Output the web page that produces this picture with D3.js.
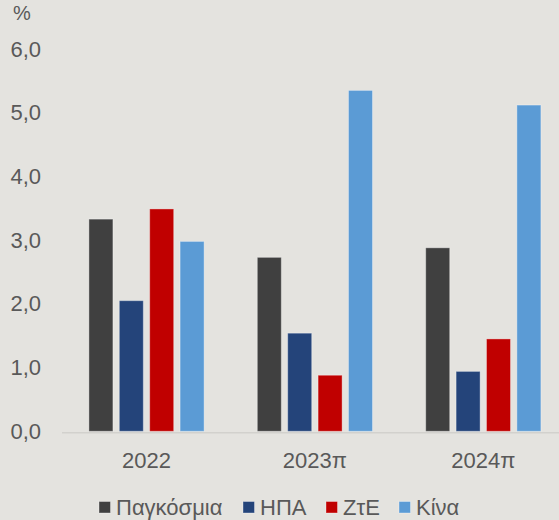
<!DOCTYPE html>
<html>
<head>
<meta charset="utf-8">
<script src="https://cdn.jsdelivr.net/npm/d3@7"></script>
<style>
  html, body { margin: 0; padding: 0; background: #E4E3DF; }
  svg { display: block; }
  text { font-family: "Liberation Sans", Arial, sans-serif; fill: #595959; }
</style>
</head>
<body>
<svg id="chart" width="559" height="520"></svg>
<script>
const categories = ["2022", "2023π", "2024π"];
const seriesNames = ["Παγκόσμια", "ΗΠΑ", "ΖτΕ", "Κίνα"];
const seriesColors = ["#404040", "#24447A", "#C00000", "#5B9BD5"];
const world = [3.33, 2.73, 2.88];
const usa = [2.05, 1.54, 0.94];
const euro = [3.49, 0.88, 1.45];
const china = [2.98, 5.35, 5.12];
const yTicks = [0, 1, 2, 3, 4, 5, 6];
const seriesValues = [world, usa, euro, china];

const svg = d3.select("#chart");
const W = 559, H = 520;
svg.append("rect").attr("width", W).attr("height", H).attr("fill", "#E4E3DF");

const y = d3.scaleLinear().domain([0, 6]).range([431.3, 49]);
const x0 = d3.scaleBand().domain(categories).range([62.3, 567.5])
  .paddingInner(0.316).paddingOuter(0.158);
const x1 = d3.scaleBand().domain(seriesNames).range([0, x0.bandwidth()])
  .paddingInner(0.21).paddingOuter(0);
const color = d3.scaleOrdinal().domain(seriesNames).range(seriesColors);

// baseline
svg.append("line")
  .attr("x1", 62).attr("x2", W)
  .attr("y1", 432.8).attr("y2", 432.8)
  .attr("stroke", "#D2D1CD").attr("stroke-width", 1.5);

// y axis labels
const yAxis = d3.axisLeft(y).tickValues(yTicks)
  .tickFormat(d => d3.format(".1f")(d).replace(".", ","))
  .tickSize(0).tickPadding(0);
const gy = svg.append("g").attr("transform", "translate(41,0)").call(yAxis);
gy.select(".domain").remove();
gy.selectAll("text").style("font-size", "22px").attr("fill", "#595959")
  .style("font-family", "'Liberation Sans', Arial, sans-serif");

// x axis labels
const xAxis = d3.axisBottom(x0).tickSize(0).tickPadding(0);
const gx = svg.append("g").attr("transform", "translate(0,452)").call(xAxis);
gx.select(".domain").remove();
gx.selectAll("text").style("font-size", "22px").attr("fill", "#595959")
  .attr("dy", "0.71em")
  .style("font-family", "'Liberation Sans', Arial, sans-serif");

// % label
svg.append("text").attr("x", 13).attr("y", 20).style("font-size", "20px").text("%");

// bars
const groups = svg.append("g").selectAll("g").data(categories).join("g")
  .attr("transform", d => `translate(${x0(d)},0)`);
groups.selectAll("rect")
  .data((c, i) => seriesNames.map((s, k) => ({ s, v: seriesValues[k][i] })))
  .join("rect")
  .attr("x", d => x1(d.s))
  .attr("width", x1.bandwidth())
  .attr("y", d => y(d.v))
  .attr("height", d => y(0) - y(d.v))
  .attr("fill", d => color(d.s))
  .attr("stroke", "rgba(255,255,255,0.35)")
  .attr("stroke-width", 1);

// legend
const legendX = [99, 243, 326, 399];
const lg = svg.append("g");
seriesNames.forEach((s, i) => {
  lg.append("rect").attr("x", legendX[i]).attr("y", 501.5)
    .attr("width", 11.5).attr("height", 11.5).attr("fill", color(s))
    .attr("stroke", "rgba(255,255,255,0.35)");
  lg.append("text").attr("x", legendX[i] + 17).attr("y", 514.5)
    .style("font-size", "22px").text(s);
});
</script>
</body>
</html>
